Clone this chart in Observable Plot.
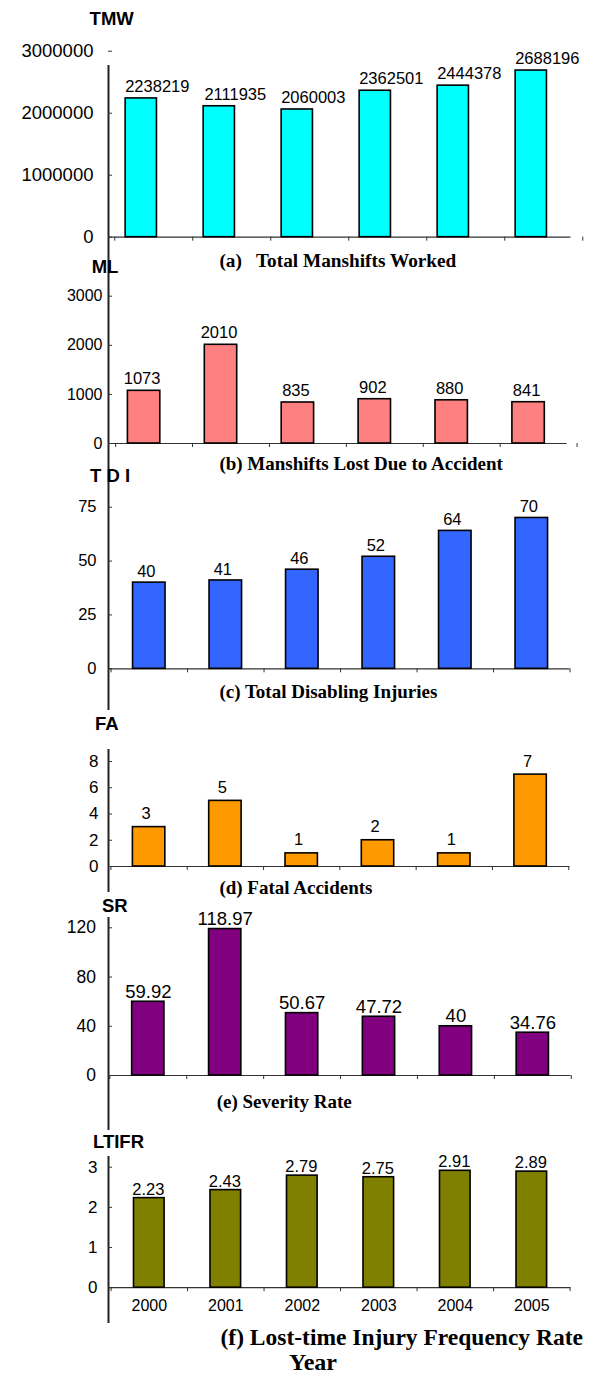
<!DOCTYPE html>
<html><head><meta charset="utf-8">
<script src="https://cdn.jsdelivr.net/npm/d3@7"></script>
<script src="https://cdn.jsdelivr.net/npm/@observablehq/plot@0.6"></script>
<style>
body{margin:0;background:#fff;}
#wrap{position:relative;width:590px;height:1374px;overflow:hidden;background:#fff;}
#wrap > svg{position:absolute;left:0;}
</style></head><body><div id="wrap"></div>
<script>
// ---- data ----
const years = [2000, 2001, 2002, 2003, 2004, 2005];
const tmw   = [2238219, 2111935, 2060003, 2362501, 2444378, 2688196];
const ml    = [1073, 2010, 835, 902, 880, 841];
const tdi   = [40, 41, 46, 52, 64, 70];
const fa    = [3, 5, 1, 2, 1, 7];
const sr    = [59.92, 118.97, 50.67, 47.72, 40, 34.76];
const ltifr = [2.23, 2.43, 2.79, 2.75, 2.91, 2.89];

const tmwTicks   = [0, 1000000, 2000000, 3000000];
const mlTicks    = [0, 1000, 2000, 3000];
const tdiTicks   = [0, 25, 50, 75];
const faTicks    = [0, 2, 4, 6, 8];
const srTicks    = [0, 40, 80, 120];
const ltifrTicks = [0, 1, 2, 3];

const axisTitles = ["TMW", "ML", "T D I", "FA", "SR", "LTIFR"];
const captions = [
  "(a)   Total Manshifts Worked",
  "(b) Manshifts Lost Due to Accident",
  "(c) Total Disabling Injuries",
  "(d) Fatal Accidents",
  "(e) Severity Rate",
  "(f) Lost-time Injury Frequency Rate"
];
const xTitle = "Year";

// ---- layout (pixels) ----
const W = 590, LEFT = 108;
const panels = [
  {values: tmw, ticks: tmwTicks, color: "#00FFFF", T: 0, H: 276, lineTop: 65, lineBottom: 276, right: 570.5,
   c0: 140.8, step: 78, off: 0.34, barW: 31.3, zeroY: 236.7, topY: 50.7, tickPad: 15, tickFont: 18.5, labelFont: 16.5, gap: 6.5, labelDx: 16},
  {values: ml, ticks: mlTicks, color: "#FF8080", T: 276, H: 214, lineTop: 276, lineBottom: 490, right: 566.7,
   c0: 143.6, step: 76.9, off: 0.37, barW: 32.4, zeroY: 443, topY: 295.7, tickPad: 6, tickFont: 16, labelFont: 16.5, gap: 6.4, labelDx: -2},
  {values: tdi, ticks: tdiTicks, color: "#3366FF", T: 490, H: 222, lineTop: 490, lineBottom: 710, right: 569.4,
   c0: 148.8, step: 76.5, off: 0.5, barW: 32.5, zeroY: 668.3, topY: 506.7, tickPad: 12, tickFont: 16.5, labelFont: 16.5, gap: 5.5, labelDx: -3},
  {values: fa, ticks: faTicks, color: "#FF9900", T: 712, H: 188, lineTop: 749, lineBottom: 892, right: 569.4,
   c0: 148.6, step: 76.3, off: 0.5, barW: 32.4, zeroY: 866, topY: 761, tickPad: 10, tickFont: 17, labelFont: 16.5, gap: 8, labelDx: -3},
  {values: sr, ticks: srTicks, color: "#800080", T: 900, H: 236, lineTop: 917, lineBottom: 1130, right: 570.5,
   c0: 147.8, step: 76.9, off: 0.5, barW: 32.3, zeroY: 1075, topY: 927.3, tickPad: 12.5, tickFont: 17.5, labelFont: 18.5, gap: 4, labelDx: 0},
  {values: ltifr, ticks: ltifrTicks, color: "#808000", T: 1136, H: 238, lineTop: 1156, lineBottom: 1323, right: 570.5,
   c0: 148.8, step: 76.5, off: 0.5, barW: 30.6, zeroY: 1287.2, topY: 1166.7, tickPad: 11, tickFont: 17, labelFont: 16.5, gap: 3.5, labelDx: -1, yearLabels: true}
];

const wrap = document.getElementById("wrap");

function makePanel(cfg) {
  const data = years.map((year, i) => ({year, value: cfg.values[i]}));
  const xd = [2000 - (cfg.c0 - LEFT) / cfg.step, 2000 + (cfg.right - cfg.c0) / cfg.step];
  const hw = cfg.barW / cfg.step / 2;
  const bounds = years.map(y => y - cfg.off).concat([years[years.length - 1] + 1 - cfg.off]);
  const marks = [
    Plot.ruleY([0], {stroke: "#333", strokeWidth: 1.2}),
    Plot.ruleX(bounds, {x: d => d, y1: 0, y2: 0, insetBottom: -4, stroke: "#333", strokeWidth: 1}),
    Plot.rectY(data, {x1: d => d.year - hw, x2: d => d.year + hw, y: "value", fill: cfg.color, stroke: "#000", strokeWidth: 1.6}),
    Plot.ruleX([xd[0]], {stroke: "#222", strokeWidth: 2}),
    Plot.axisY({ticks: cfg.ticks, tickSize: 4, dx: 4, tickFormat: () => "", stroke: "#333", label: null}),
    Plot.axisY({ticks: cfg.ticks, tickSize: 0, tickPadding: cfg.tickPad, tickFormat: d => String(d), fontSize: cfg.tickFont, fill: "#000", label: null}),
    Plot.text(data, {x: "year", y: "value", text: d => String(d.value), lineAnchor: "bottom", dy: -cfg.gap, dx: cfg.labelDx, fontSize: cfg.labelFont, fill: "#000"})
  ];
  if (cfg.yearLabels) {
    marks.push(Plot.text(years, {x: d => d, y: 0, text: d => String(d), dy: 17.8, fontSize: 16, fill: "#000"}));
  }
  const svg = Plot.plot({
    width: W,
    height: cfg.H,
    marginLeft: LEFT,
    marginRight: W - cfg.right,
    marginTop: cfg.lineTop - cfg.T,
    marginBottom: cfg.T + cfg.H - cfg.lineBottom,
    style: {fontFamily: "'Liberation Sans', Arial, sans-serif", background: "transparent", overflow: "visible", color: "#000"},
    x: {domain: xd, axis: null},
    y: {domain: [0, cfg.ticks[cfg.ticks.length - 1]], range: [cfg.zeroY - cfg.T, cfg.topY - cfg.T], label: null},
    marks
  });
  svg.style.top = cfg.T + "px";
  wrap.appendChild(svg);
}

panels.forEach(makePanel);

// ---- overlay text: axis titles and captions ----
const titlePos = [[89.6, 25], [91.7, 273], [90, 482], [95, 730], [102, 912], [93, 1148]];
const capPos = [[219.4, 266.7, 19.3], [219.4, 470, 19], [219.4, 698, 19], [219.4, 894, 19], [216.7, 1108, 19], [220.5, 1345, 23.5]];

const ov = d3.select(wrap).append("svg")
  .attr("width", W).attr("height", 1374)
  .style("position", "absolute").style("top", "0px").style("pointer-events", "none");

ov.selectAll("text.t").data(axisTitles).join("text")
  .attr("class", "t")
  .attr("x", (d, i) => titlePos[i][0]).attr("y", (d, i) => titlePos[i][1])
  .attr("font-family", "'Liberation Sans', Arial, sans-serif")
  .attr("font-weight", "bold").attr("font-size", 18.5)
  .attr("fill", "#000")
  .style("white-space", "pre")
  .text(d => d);

ov.selectAll("text.c").data(captions).join("text")
  .attr("class", "c")
  .attr("x", (d, i) => capPos[i][0]).attr("y", (d, i) => capPos[i][1])
  .attr("font-family", "'Liberation Serif', 'Times New Roman', serif")
  .attr("font-weight", "bold").attr("font-size", (d, i) => capPos[i][2])
  .attr("fill", "#000")
  .attr("xml:space", "preserve")
  .style("white-space", "pre")
  .text(d => d);

ov.append("text")
  .attr("x", 289).attr("y", 1370)
  .attr("font-family", "'Liberation Serif', 'Times New Roman', serif")
  .attr("font-weight", "bold").attr("font-size", 24)
  .attr("fill", "#000")
  .text(xTitle);
</script>
</body></html>
